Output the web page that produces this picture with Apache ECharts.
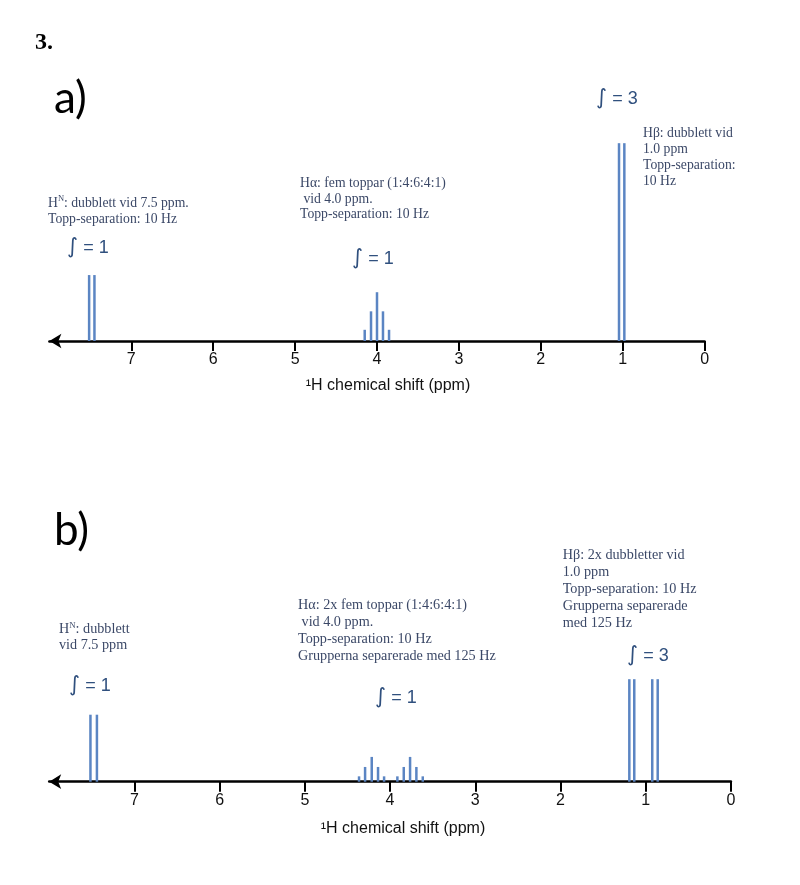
<!DOCTYPE html>
<html>
<head>
<meta charset="utf-8">
<script src="https://cdn.jsdelivr.net/npm/echarts@6/dist/echarts.min.js"></script>
<style>
html,body{margin:0;padding:0;background:#fff;}
#chart{width:800px;height:885px;}
</style>
</head>
<body>
<div id="chart"></div>
<script>
// ---- data ----
const xTicks = [0, 1, 2, 3, 4, 5, 6, 7];
const axisTitle = '\u00B9H chemical shift (ppm)';

// panel a: single-frequency spectrum
const shiftA = [7.515, 7.45, 4.150, 4.073, 4.0, 3.927, 3.853, 1.045, 0.98];
const intensityA = [1.0, 1.0, 0.17, 0.45, 0.74, 0.45, 0.17, 3.0, 3.0];

// panel b: split spectrum
const shiftB = [7.516, 7.44, 4.364, 4.293, 4.215, 4.141, 4.07, 3.914, 3.839, 3.765, 3.691, 3.616, 1.192, 1.134, 0.923, 0.859];
const intensityB = [1.0, 1.0, 0.08, 0.22, 0.37, 0.22, 0.08, 0.08, 0.22, 0.37, 0.22, 0.08, 1.53, 1.53, 1.53, 1.53];

const integralsA = ['1', '1', '3'];
const integralsB = ['1', '1', '3'];

const notesA_HN = ['{t|H}{s|N}{t|: dubblett vid 7.5 ppm.}', '{t|Topp-separation: 10 Hz}'];
const notesA_Ha = ['H\u03B1: fem toppar (1:4:6:4:1)', ' vid 4.0 ppm.', 'Topp-separation: 10 Hz'];
const notesA_Hb = ['H\u03B2: dubblett vid', '1.0 ppm', 'Topp-separation:', '10 Hz'];
const notesB_HN = ['{t|H}{s|N}{t|: dubblett}', '{t|vid 7.5 ppm}'];
const notesB_Ha = ['H\u03B1: 2x fem toppar (1:4:6:4:1)', ' vid 4.0 ppm.', 'Topp-separation: 10 Hz', 'Grupperna separerade med 125 Hz'];
const notesB_Hb = ['H\u03B2: 2x dubbletter vid', '1.0 ppm', 'Topp-separation: 10 Hz', 'Grupperna separerade', 'med 125 Hz'];

// ---- styles ----
const PEAK = '#5b85c3';
const NOTE = '#3b4867';
const INTG = '#30507e';
const SERIF = '"Liberation Serif", "Times New Roman", serif';
const SANS = '"Liberation Sans", Arial, sans-serif';

const chart = echarts.init(document.getElementById('chart'), null, {renderer: 'canvas'});

function xAxisCfg(gi) {
  return {
    gridIndex: gi, type: 'value', min: 0, max: 8, inverse: true,
    axisLine: {show: true, onZero: false, lineStyle: {color: '#000', width: 2.5},
      symbol: ['arrow', 'none'], symbolSize: [11, 12]},
    axisTick: {show: true, length: 10, customValues: xTicks, lineStyle: {color: '#000', width: 2}},
    axisLabel: {customValues: xTicks, fontSize: 16, color: '#111', margin: 11, fontFamily: SANS},
    splitLine: {show: false}
  };
}
function renderPeak(params, api) {
  const x = api.value(0), h = api.value(1);
  const p0 = api.coord([x, 0]);
  const p1 = api.coord([x, h]);
  return {type: 'rect', shape: {x: p0[0] - 1.25, y: p1[1], width: 2.5, height: p0[1] - p1[1]},
    style: {fill: PEAK}};
}
function txt(x, y, text, fs, fill, family, opts) {
  return Object.assign({type: 'text', x: x, y: y, silent: true,
    style: Object.assign({text: text, fontSize: fs, fill: fill, fontFamily: family,
      align: 'left', verticalAlign: 'top'}, opts || {})});
}
function note(x, y, lines, fs, lh) {
  return txt(x, y, lines.join('\n'), fs, NOTE, SERIF, {lineHeight: lh});
}
function richNote(x, y, lines, fs, lh) {
  return txt(x, y, lines.join('\n'), fs, NOTE, SERIF, {lineHeight: lh,
    rich: {t: {fontSize: fs, fontFamily: SERIF, fill: NOTE, lineHeight: lh},
           s: {fontSize: fs * 0.62, fontFamily: SERIF, fill: NOTE, verticalAlign: 'top', lineHeight: lh * 0.7}}});
}
function integral(x, y, n) {
  return txt(x, y, '{i|\u222B}{t| = ' + n + '}', 18, INTG, SANS, {align: 'center', verticalAlign: 'middle',
    rich: {i: {fontSize: 21, fontFamily: '"DejaVu Sans", sans-serif', fill: INTG},
           t: {fontSize: 18, fontFamily: SANS, fill: INTG}}});
}

const option = {
  animation: false,
  backgroundColor: '#fff',
  grid: [
    {left: 49.4, width: 655.2, top: 130, height: 211},
    {left: 49.2, width: 681.7, top: 647.7, height: 134}
  ],
  xAxis: [xAxisCfg(0), xAxisCfg(1)],
  yAxis: [
    {gridIndex: 0, type: 'value', min: 0, max: 3.2, show: false},
    {gridIndex: 1, type: 'value', min: 0, max: 2, show: false}
  ],
  series: [
    {type: 'custom', xAxisIndex: 0, yAxisIndex: 0, clip: false, renderItem: renderPeak,
      data: shiftA.map((s, i) => [s, intensityA[i]])},
    {type: 'custom', xAxisIndex: 1, yAxisIndex: 1, clip: false, renderItem: renderPeak,
      data: shiftB.map((s, i) => [s, intensityB[i]])}
  ],
  graphic: [
    txt(35, 42.5, '3.', 24, '#000', SERIF, {fontWeight: 'bold', verticalAlign: 'middle'}),
    txt(54, 99, 'a)', 44, '#000', 'Lato, "Open Sans", sans-serif', {verticalAlign: 'middle'}),
    txt(54, 531, 'b)', 44, '#000', 'Lato, "Open Sans", sans-serif', {verticalAlign: 'middle'}),
    // panel a
    richNote(48, 195, notesA_HN, 13.7, 16),
    note(300, 176, notesA_Ha, 13.7, 15.5),
    note(643, 124.8, notesA_Hb, 13.7, 16.3),
    integral(88, 248, integralsA[0]),
    integral(373, 259, integralsA[1]),
    integral(617, 99, integralsA[2]),
    txt(388, 386, axisTitle, 16, '#111', SANS, {align: 'center', verticalAlign: 'middle'}),
    // panel b
    richNote(59, 621, notesB_HN, 14.2, 16),
    note(298, 596.4, notesB_Ha, 14.2, 17.2),
    note(562.7, 547.2, notesB_Hb, 14.2, 16.9),
    integral(90, 686, integralsB[0]),
    integral(396, 698, integralsB[1]),
    integral(648, 656, integralsB[2]),
    txt(403, 829, axisTitle, 16, '#111', SANS, {align: 'center', verticalAlign: 'middle'})
  ]
};
chart.setOption(option);
</script>
</body>
</html>
